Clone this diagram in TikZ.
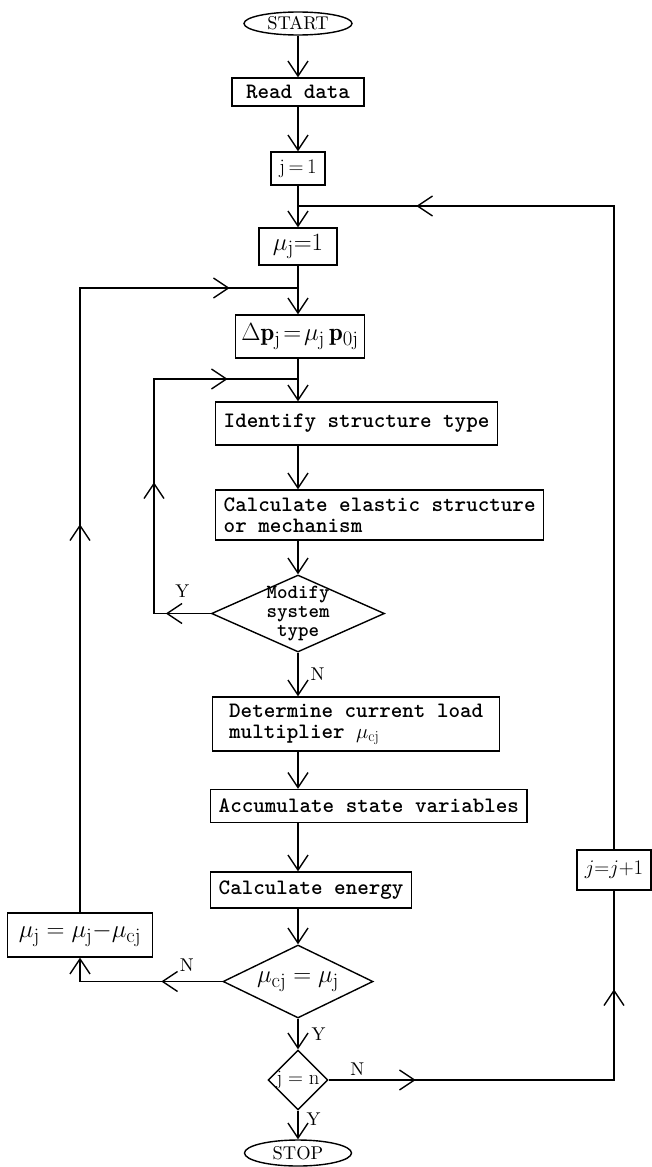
\documentclass[tikz,border=0pt]{standalone}
\usepackage{fontspec}
\newfontfamily\romfont{lmroman10-regular.otf}
\newfontfamily\monofont{lmmonolt10-bold.otf}
\usetikzlibrary{shapes,arrows.meta,positioning,decorations.markings}

\tikzstyle{line} = [draw, line width=1.4pt]
\tikzstyle{block} = [rectangle, draw, line width=1.4pt, font=\fontsize{22}{21}\monofont, align=left, inner xsep=8pt, inner ysep=0pt]
\tikzstyle{mblock} = [rectangle, draw, line width=1.4pt, inner sep=0pt, font=\fontsize{20.74}{24}\romfont]
\tikzstyle{bigmath} = [font=\fontsize{24.88}{28}\romfont]
\tikzstyle{decision} = [diamond, draw, line width=1.4pt, inner sep=-12pt, align=center]
\tikzstyle{terminal} = [ellipse, draw, line width=1.4pt, inner sep=0pt, font=\fontsize{18.5}{20}\romfont]
\tikzstyle{yn} = [font=\fontsize{18.5}{20}\romfont, inner sep=2pt]

\begin{document}
\begin{tikzpicture}[x=1pt,y=-1pt,>={Straight Barb[length=15pt,width=20pt]}]
  \useasboundingbox (0,0) rectangle (652,1167);

  \coordinate (spine) at (298,0);
  \coordinate (top) at (298,206);
  \coordinate (jn0) at (298,288);
  \coordinate (jn1) at (298,379);
  \coordinate (oloop) at (80,288);
  \coordinate (iloop) at (154,379);

  \node [terminal, minimum width=108pt, minimum height=23pt] (start) at (298,23.5) {START};
  \node [block, minimum width=132pt, minimum height=28pt] (read) at (298,92) {Read data};
  \node [mblock, minimum width=54pt, minimum height=33pt] (jinit) at (298,168.5) {$\mathrm{j}\,{=}\,1$};
  \node [mblock, bigmath, minimum width=78pt, minimum height=37pt] (muinit) at (298,246.5) {$\mu_{\mathrm{j}}{=}1$};
  \node [mblock, bigmath, minimum width=129pt, minimum height=43pt] (dload) at (300,336.5) {$\Delta\mathbf{p}_{\mathrm{j}}\!=\!\mu_{\mathrm{j}}\,\mathbf{p}_{0\mathrm{j}}$};
  \node [block, anchor=west, minimum height=43pt] (ident) at (215,423.5) {Identify structure type};
  \node [block, anchor=west, minimum height=50pt] (elast) at (215,515) {Calculate elastic structure\\or mechanism};
  \node [decision, minimum width=173pt, minimum height=77pt, font=\fontsize{20}{19}\monofont] (modify) at (298,613.5) {Modify\\system\\type};
  \node [block, anchor=west, minimum width=287pt, minimum height=54pt] (determ) at (212,724) {Determine current load\\multiplier $\mu_{\mathrm{cj}}$};
  \node [block, anchor=west, minimum height=33pt] (accum) at (210,806) {Accumulate state variables};
  \node [block, anchor=west, minimum height=36pt] (energy) at (210,890) {Calculate energy};
  \node [decision, bigmath, minimum width=150pt, minimum height=73pt] (check) at (298,981.5) {$\mu_{\mathrm{cj}}=\mu_{\mathrm{j}}$};
  \node [mblock, bigmath, minimum width=145pt, minimum height=44pt] (update) at (80,935) {$\mu_{\mathrm{j}}=\mu_{\mathrm{j}}{-}\mu_{\mathrm{cj}}$};
  \node [decision, minimum width=60pt, minimum height=60pt, font=\fontsize{20.74}{24}\romfont] (jtest) at (298,1080) {$\mathrm{j}=\mathrm{n}$};
  \node [terminal, minimum width=107pt, minimum height=26pt] (stop) at (298,1153) {STOP};
  \node [mblock, minimum width=74pt, minimum height=40pt] (jinc) at (614,870) {$j{=}j{+}1$};

  \draw[line,->] (start) -- (read);
  \draw[line,->] (read) -- (jinit);
  \draw[line,->] (jinit) -- (muinit);
  \draw[line,->] (muinit) -- (dload.north -| muinit);
  \draw[line,->] (dload.south -| spine) -- (ident.north -| spine);
  \draw[line,->] (ident.south -| spine) -- (elast.north -| spine);
  \draw[line,->] (elast.south -| spine) -- (modify);
  \draw[line,->] (modify) -- node[yn, right=10pt]{N} (determ.north -| spine);
  \draw[line,->] (determ.south -| spine) -- (accum.north -| spine);
  \draw[line,->] (accum.south -| spine) -- (energy.north -| spine);
  \draw[line,->] (energy.south -| spine) -- (check);
  \draw[line,->] (check) -- node[yn, right=11pt]{Y} (jtest);
  \draw[line,->] (jtest) -- node[yn, right=6pt, pos=0.3]{Y} (stop);

  \draw[line, postaction={decorate}, decoration={markings,
      mark=at position 45pt with {\arrow{>}},
      mark=at position 188pt with {\arrow{>}},
      mark=at position 365pt with {\arrow{>}}}]
    (modify.west) -- node[yn, above=13pt]{Y} (modify.west -| iloop) -- (iloop) -- (jn1);

  \draw[line, postaction={decorate}, decoration={markings,
      mark=at position 388pt with {\arrow{>}},
      mark=at position 774pt with {\arrow{>}}}]
    (update.north) -- (oloop) -- (jn0);

  \draw[line, ->, postaction={decorate}, decoration={markings,
      mark=at position 61pt with {\arrow{>}}}]
    (check.west) -- node[yn, above=7pt, pos=0.25]{N} (check.west -| update) -- (update.south);

  \draw[line, postaction={decorate}, decoration={markings,
      mark=at position 87pt with {\arrow{>}},
      mark=at position 376pt with {\arrow{>}}}]
    (jtest.east) -- node[yn, above=2pt, pos=0.1]{N} (jtest.east -| jinc) -- (jinc.south);

  \draw[line, postaction={decorate}, decoration={markings,
      mark=at position 841pt with {\arrow{>}}}]
    (jinc.north) -- (jinc.north |- top) -- (top);
\end{tikzpicture}
\end{document}
